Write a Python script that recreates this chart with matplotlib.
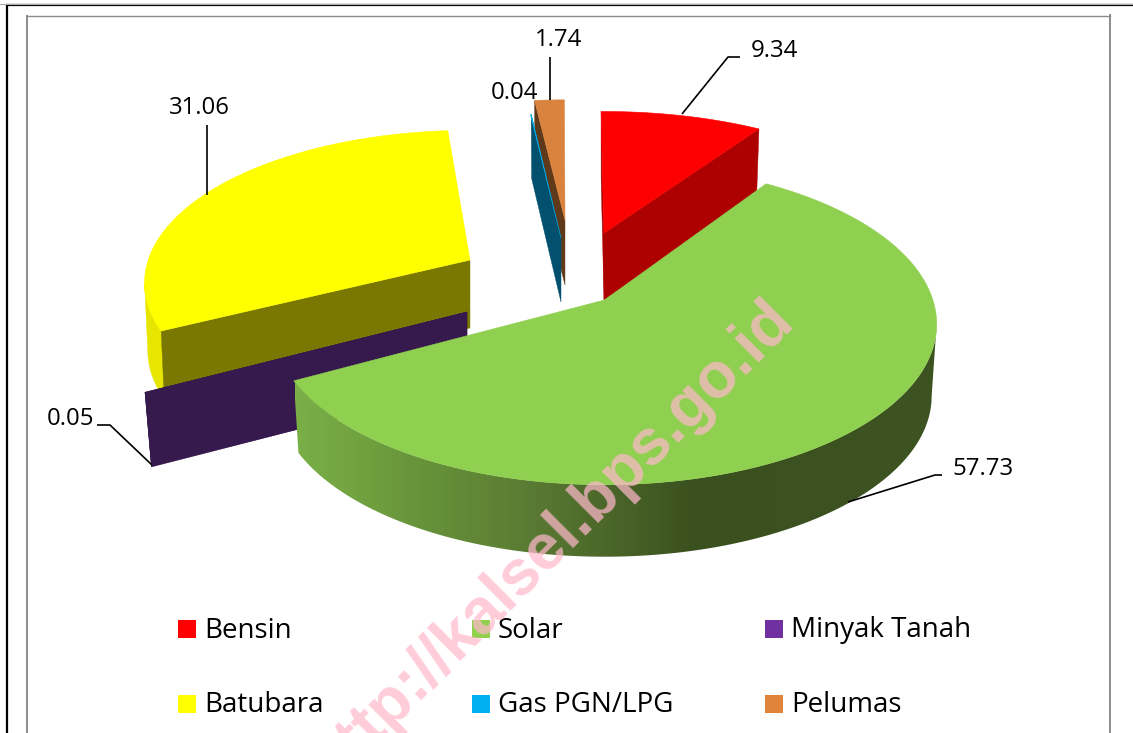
import numpy as np
import matplotlib
matplotlib.use("Agg")
import matplotlib.pyplot as plt
from matplotlib.patches import Polygon, Rectangle
from matplotlib.colors import LinearSegmentedColormap

categories = ["Bensin", "Solar", "Minyak Tanah", "Batubara", "Gas PGN/LPG", "Pelumas"]
values = [9.34, 57.73, 0.05, 31.06, 0.04, 1.74]
legend_colors = ["#ff0000", "#92d050", "#7030a0", "#ffff00", "#00b0f0", "#e0843c"]

# geometry of the 3D pie in pixels
P, SX, SY = 0.15, 330, 157
style = {
    "Bensin":       dict(apex=(604, 233), s=(0.97, 0.89), rot=-0.6, depth=67, shrink=0.985, top="#ff0000", cut="#ad0000", side="#ad0000"),
    "Solar":        dict(apex=(604.5, 300), s=(0.995, 1), rot=0, depth=72, shrink=0.985, top="#8fd050", cut="#6f9f3c", side=None),
    "Minyak Tanah": dict(apex=(467, 312), s=(1.03, 1.0), rot=0, depth=74, shrink=0.98, top="#361a4d", cut="#361a4d", side="#361a4d"),
    "Batubara":     dict(apex=(470, 260), s=(0.975, 0.95), rot=2, depth=68, shrink=0.99, top="#ffff00", cut="#7a7800", side="#e6e600"),
    "Gas PGN/LPG":  dict(apex=(561, 238), s=(0.93, 0.91), rot=0, depth=64, shrink=0.985, top="#00b0f0", cut="#024f6e", side="#024f6e"),
    "Pelumas":      dict(apex=(565, 220), s=(0.95, 0.88), rot=0, depth=65, shrink=0.985, top="#d9833f", cut="#5e3a1a", side="#5e3a1a"),
}
# label text anchor + leader polyline per category
labels = {
    "Bensin": ((774, 51), [(682, 114), (728, 57), (740, 57)]),
    "Solar": ((983, 469), [(848, 502), (935, 475), (942, 475)]),
    "Minyak Tanah": ((70, 419), [(97, 425), (110, 425), (152, 465)]),
    "Batubara": ((199, 108), [(207, 195), (207, 125)]),
    "Gas PGN/LPG": ((514, 93), []),
    "Pelumas": ((559, 40), [(550, 100), (550, 57)]),
}
FONT = "Open Sans"

fig = plt.figure(figsize=(11.33, 7.33), dpi=100)
ax = fig.add_axes([0, 0, 1, 1])
ax.axis("off")

# frames
ax.plot([7, 7, 1133], [740, 5, 5], color="black", lw=1.6, solid_joinstyle="miter", zorder=1)
ax.plot([0, 1133], [3.5, 3.5], color="#aaaaaa", lw=0.8, zorder=1)
ax.plot([27, 27], [740, 15.5], color="#8c8c8c", lw=1.4, zorder=1)
ax.plot([27, 1110], [15.5, 15.5], color="#8c8c8c", lw=1.0, zorder=1)
ax.plot([1110, 1110], [15, 740], color="#8c8c8c", lw=1.4, zorder=1)

edges = np.cumsum([0] + values) * 3.6
span = {c: (edges[i], edges[i + 1]) for i, c in enumerate(categories)}
side_cmap = LinearSegmentedColormap.from_list(
    "solar_side",
    [(0.0, "#7ab047"), (0.19, "#68943a"), (0.38, "#587832"), (0.62, "#3a501e"), (1.0, "#3d5321")],
)


def rim(cat, t):
    st = style[cat]
    t = np.radians(np.asarray(t) + st["rot"])
    u, v = np.sin(t), np.cos(t)
    w = 1 + P * v
    ax_, ay_ = st["apex"]
    return ax_ + SX * st["s"][0] * u / w, ay_ - SY * st["s"][1] * v / w


def lower(cat, x, y):
    st = style[cat]
    return st["apex"][0] + (np.asarray(x) - st["apex"][0]) * st["shrink"], np.asarray(y) + st["depth"]


def draw_wedge(cat, z, face_start=False, face_end=False):
    st = style[cat]
    a, b = span[cat]
    ap = st["apex"]
    ts = np.linspace(a, b, 400)
    x, y = rim(cat, ts)
    xb, yb = lower(cat, x, y)
    # outer side: only the part facing the viewer, between the two silhouette tangents
    front = np.cos(np.radians(ts + st["rot"])) <= -P
    if front.sum() >= 2:
        pts = np.c_[np.r_[x[front], xb[front][::-1]], np.r_[y[front], yb[front][::-1]]]
        if st["side"] is not None:
            ax.add_patch(Polygon(pts, closed=True, fc=st["side"], ec=st["side"], lw=0.3, zorder=z))
        else:
            poly = Polygon(pts, closed=True, fc="none", ec="none")
            ax.add_patch(poly)
            im = ax.imshow(np.linspace(0, 1, 512)[None, :], cmap=side_cmap, extent=[295, 940, 570, 300],
                           aspect="auto", zorder=z, interpolation="bilinear")
            im.set_clip_path(poly)
    # cut faces
    for flag, i in ((face_start, 0), (face_end, -1)):
        if flag:
            ax.add_patch(Polygon([ap, (x[i], y[i]), (xb[i], yb[i]), (ap[0], ap[1] + st["depth"])],
                                 closed=True, fc=st["cut"], ec=st["cut"], lw=0.3, zorder=z + 0.1))
    # top
    ax.add_patch(Polygon(np.c_[np.r_[ap[0], x], np.r_[ap[1], y]], closed=True,
                         fc=st["top"], ec=st["top"], lw=0.4, zorder=z + 0.2))


draw_wedge("Batubara", 2, face_start=True)
draw_wedge("Minyak Tanah", 3, face_start=True, face_end=True)
draw_wedge("Pelumas", 4, face_start=True)
draw_wedge("Gas PGN/LPG", 5, face_end=True)
draw_wedge("Bensin", 6, face_start=True, face_end=True)
draw_wedge("Solar", 7)

ax.set_xlim(0, 1133)
ax.set_ylim(733, 0)
ax.set_aspect("auto")

# leaders and data labels
for cat, val in zip(categories, values):
    (tx, ty), line = labels[cat]
    if line:
        xs, ys = zip(*line)
        ax.plot(xs, ys, color="black", lw=1.2, zorder=9, solid_capstyle="butt")
    ax.text(tx, ty, f"{val:.2f}", ha="center", va="center", fontsize=17.3, family=FONT, color="#000000", zorder=10)

# legend
leg_x = [178, 472, 765]
leg_y = [629, 704]
for i, (cat, col) in enumerate(zip(categories, legend_colors)):
    lx, ly = leg_x[i % 3], leg_y[i // 3]
    ax.add_patch(Rectangle((lx, ly - 9), 18, 18, fc=col, ec="none", zorder=9))
    ax.text(lx + 26, ly + 1.5, cat, ha="left", va="center", fontsize=20, family=FONT, color="#000000", zorder=10)

# watermark
ax.text(796, 322, "http://kalsel.bps.go.id", rotation=45, rotation_mode="anchor", ha="right", va="baseline",
        fontsize=46, family="Liberation Sans", weight="bold", color=(1, 0.72, 0.80), alpha=0.72, zorder=20, clip_on=True)

fig.savefig("out.png", dpi=100)
